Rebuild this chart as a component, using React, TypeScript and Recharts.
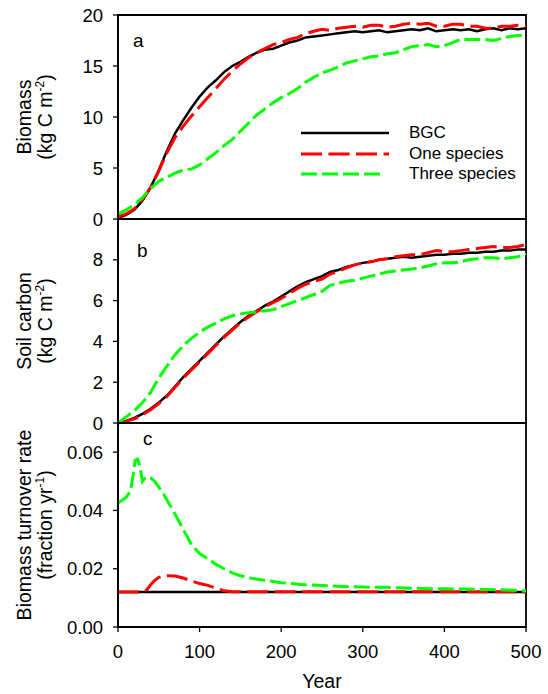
import { Legend, Line, LineChart, ReferenceArea, XAxis, YAxis } from "recharts";

const FONT = "'Liberation Sans', Arial, sans-serif";

const YEARS = [
  0, 10, 20, 30, 40, 50, 60, 70, 80, 90, 100, 110, 120, 130, 140, 150, 160,
  170, 180, 190, 200, 210, 220, 230, 240, 250, 260, 270, 280, 290, 300, 310,
  320, 330, 340, 350, 360, 370, 380, 390, 400, 410, 420, 430, 440, 450, 460,
  470, 480, 490, 500,
];

// panel a: biomass (kg C m-2)
const BIOMASS_BGC = [
  0.1, 0.4, 0.9, 1.8, 3.1, 4.8, 6.7, 8.4, 9.7, 10.9,
  12.0, 12.9, 13.6, 14.4, 15.0, 15.4, 15.9, 16.3, 16.6, 16.7,
  17.0, 17.3, 17.5, 17.8, 17.9, 18.0, 18.1, 18.2, 18.3, 18.4,
  18.3, 18.4, 18.5, 18.3, 18.4, 18.5, 18.6, 18.5, 18.7, 18.4,
  18.5, 18.6, 18.5, 18.6, 18.4, 18.6, 18.7, 18.5, 18.7, 18.6, 18.7,
];
const BIOMASS_ONE = [
  0.2, 0.5, 1.0, 1.9, 3.1, 4.7, 6.5, 8.0, 9.1, 10.1,
  11.0, 11.9, 12.8, 13.7, 14.5, 15.2, 15.8, 16.3, 16.7, 17.1,
  17.3, 17.6, 17.8, 18.2, 18.4, 18.6, 18.5, 18.7, 18.8, 18.9,
  18.8, 19.0, 19.0, 18.8, 18.9, 19.1, 19.2, 19.1, 19.2, 18.9,
  18.9, 19.1, 19.1, 18.9, 18.9, 18.7, 18.7, 18.9, 18.9, 19.0, 18.9,
];
const BIOMASS_THREE = [
  0.5, 0.9, 1.4, 2.1, 3.0, 3.7, 4.1, 4.5, 4.8, 4.9,
  5.3, 5.9, 6.5, 7.2, 7.8, 8.6, 9.4, 10.2, 10.8, 11.4,
  11.9, 12.3, 12.8, 13.4, 13.9, 14.3, 14.6, 14.9, 15.3, 15.5,
  15.7, 15.9, 16.0, 16.2, 16.3, 16.6, 16.9, 17.0, 17.1, 16.9,
  17.0, 17.3, 17.6, 17.6, 17.6, 17.6, 17.5, 17.7, 17.9, 18.0, 18.0,
];

// panel b: soil carbon (kg C m-2)
const SOIL_BGC = [
  0, 0.1, 0.25, 0.45, 0.7, 1.0, 1.35, 1.8, 2.25, 2.65,
  3.05, 3.45, 3.85, 4.25, 4.6, 4.95, 5.25, 5.5, 5.75, 5.95,
  6.2, 6.45, 6.7, 6.9, 7.05, 7.2, 7.4, 7.5, 7.65, 7.75,
  7.85, 7.9, 8.0, 8.05, 8.1, 8.15, 8.1, 8.15, 8.2, 8.25,
  8.25, 8.3, 8.3, 8.35, 8.35, 8.4, 8.4, 8.45, 8.45, 8.5, 8.5,
];
const SOIL_ONE = [
  0, 0.08, 0.2, 0.4, 0.65, 0.95, 1.3, 1.75, 2.2, 2.6,
  3.0, 3.4, 3.8, 4.2, 4.55, 4.9, 5.2, 5.45, 5.7, 5.9,
  6.1, 6.35, 6.6, 6.8, 6.95, 7.05, 7.3, 7.45, 7.6, 7.75,
  7.85, 7.9, 8.0, 8.05, 8.15, 8.2, 8.25, 8.25, 8.35, 8.45,
  8.4, 8.4, 8.45, 8.5, 8.55, 8.6, 8.65, 8.6, 8.6, 8.65, 8.75,
];
const SOIL_THREE = [
  0, 0.3, 0.6, 1.0, 1.5, 2.2, 2.8, 3.35, 3.8, 4.15,
  4.45, 4.7, 4.9, 5.1, 5.25, 5.35, 5.4, 5.45, 5.5, 5.55,
  5.7, 5.85, 6.0, 6.15, 6.3, 6.45, 6.75, 6.85, 6.95, 7.0,
  7.1, 7.2, 7.3, 7.4, 7.45, 7.5, 7.55, 7.6, 7.7, 7.8,
  7.85, 7.85, 7.9, 8.0, 8.05, 8.1, 8.1, 8.05, 8.1, 8.15, 8.3,
];

// panel c: turnover rate, finer steps early on for the spike
const YEARS_C = [
  0, 5, 10, 15, 18, 21, 24, 27, 30, 33, 36, 40, 45, 50, 55, 60, 70, 80, 90,
  100, 110, 120, 130, 140, 150, 160, 175, 200, 225, 250, 275, 300, 325, 350,
  375, 400, 425, 450, 475, 500,
];
const TURNOVER_BGC = [
  0.012, 0.012, 0.012, 0.012, 0.012, 0.012, 0.012, 0.012, 0.012, 0.012,
  0.012, 0.012, 0.012, 0.012, 0.012, 0.012, 0.012, 0.012, 0.012, 0.012,
  0.012, 0.012, 0.012, 0.012, 0.012, 0.012, 0.012, 0.012, 0.012, 0.012,
  0.012, 0.012, 0.012, 0.012, 0.012, 0.012, 0.012, 0.012, 0.012, 0.012,
];
const TURNOVER_ONE = [
  0.012, 0.012, 0.012, 0.012, 0.012, 0.012, 0.012, 0.012, 0.012, 0.0124,
  0.013, 0.0145, 0.016, 0.017, 0.0175, 0.0176, 0.0175, 0.0168, 0.0158, 0.0149,
  0.0143, 0.0133, 0.0124, 0.0121, 0.0121, 0.0121, 0.0121, 0.0121, 0.0121, 0.0121,
  0.0121, 0.0121, 0.0121, 0.0121, 0.0121, 0.0121, 0.0121, 0.0121, 0.0121, 0.0121,
];
const TURNOVER_THREE = [
  0.0425, 0.0435, 0.0445, 0.0465, 0.051, 0.0572, 0.0576, 0.055, 0.05, 0.0511,
  0.0516, 0.0512, 0.05, 0.048, 0.046, 0.0436, 0.0387, 0.0335, 0.0283, 0.0252,
  0.0234, 0.0215, 0.02, 0.0186, 0.0176, 0.0169, 0.0162, 0.0152, 0.0146, 0.0142,
  0.0139, 0.0137, 0.0136, 0.0134, 0.0132, 0.0131, 0.013, 0.0129, 0.0127, 0.0124,
];

const X_TICKS = [0, 100, 200, 300, 400, 500];
const BIOMASS_TICKS = [0, 5, 10, 15, 20];
const SOIL_TICKS = [0, 2, 4, 6, 8];
const TURNOVER_TICKS = [0, 0.02, 0.04, 0.06];

const SERIES = [
  { key: "bgc", name: "BGC", color: "#000000", width: 2.5, dash: undefined, legendLen: 88 },
  { key: "one", name: "One species", color: "#ff0000", width: 3, dash: "21 6.5", legendLen: 88 },
  { key: "three", name: "Three species", color: "#00ff00", width: 3, dash: "16 5", legendLen: 81 },
];

const rows = (years: number[], bgc: number[], one: number[], three: number[]) =>
  years.map((year, i) => ({ year, bgc: bgc[i], one: one[i], three: three[i] }));

const dataA = rows(YEARS, BIOMASS_BGC, BIOMASS_ONE, BIOMASS_THREE);
const dataB = rows(YEARS, SOIL_BGC, SOIL_ONE, SOIL_THREE);
const dataC = rows(YEARS_C, TURNOVER_BGC, TURNOVER_ONE, TURNOVER_THREE);

type TitleLine = { text: string; sup?: string; after?: string };

const TITLE_X = [31, 52];

function AxisTitle({ viewBox, lines }: { viewBox?: any; lines: TitleLine[] }) {
  if (!viewBox) return null;
  const cy = viewBox.y + viewBox.height / 2;
  return (
    <g>
      {lines.map((l, i) => (
        <text
          key={i}
          transform={`translate(${TITLE_X[i]}, ${cy}) rotate(-90)`}
          textAnchor="middle"
          fontSize={19.5}
          fill="#000"
        >
          {l.text}
          {l.sup && (
            <tspan dy={-8} fontSize={12}>
              {l.sup}
            </tspan>
          )}
          {l.after && (
            <tspan dy={8} fontSize={19.5}>
              {l.after}
            </tspan>
          )}
        </text>
      ))}
    </g>
  );
}

const letterLabel = (letter: string, dx: number, dy: number) => (props: any) => {
  const vb = props.viewBox;
  if (!vb) return null;
  return (
    <text x={vb.x + dx} y={vb.y + dy} fontSize={19} fill="#000">
      {letter}
    </text>
  );
};

const renderLegend = () => (
  <div style={{ fontSize: 17, color: "#000", lineHeight: "20px" }}>
    {SERIES.map((s) => (
      <div key={s.key} style={{ display: "flex", alignItems: "center", height: 20.5 }}>
        <svg width={90} height={8} style={{ display: "block" }}>
          <line
            x1={1}
            x2={1 + s.legendLen}
            y1={4}
            y2={4}
            stroke={s.color}
            strokeWidth={s.width}
            strokeDasharray={s.dash}
          />
        </svg>
        <span style={{ marginLeft: 19, whiteSpace: "nowrap" }}>{s.name}</span>
      </div>
    ))}
  </div>
);

function Panel({
  top,
  height,
  marginTop,
  xAxisHeight,
  data,
  yDomain,
  yTicks,
  yFormat,
  title,
  letter,
  showTopTicks,
  showXLabels,
  withLegend,
}: {
  top: number;
  height: number;
  marginTop: number;
  xAxisHeight: number;
  data: any[];
  yDomain: [number, number];
  yTicks: number[];
  yFormat: (v: number) => string;
  title: TitleLine[];
  letter: [string, number, number];
  showTopTicks: boolean;
  showXLabels: boolean;
  withLegend: boolean;
}) {
  return (
    <div style={{ position: "absolute", left: 0, top }}>
      <LineChart
        width={548}
        height={height}
        data={data}
        margin={{ top: marginTop, right: 22, bottom: 0, left: 0 }}
      >
        <XAxis
          dataKey="year"
          type="number"
          domain={[0, 500]}
          ticks={X_TICKS}
          interval={0}
          height={xAxisHeight}
          tickSize={5}
          tickMargin={13}
          axisLine={{ stroke: "#000", strokeWidth: 1.8 }}
          tickLine={{ stroke: "#000", strokeWidth: 1.3 }}
          tick={showXLabels ? { fontSize: 18.5, fill: "#000" } : false}
          label={
            showXLabels
              ? (props: any) => {
                  const vb = props.viewBox;
                  if (!vb) return null;
                  return (
                    <text x={vb.x + vb.width / 2} y={vb.y + 61} textAnchor="middle" fontSize={19.5} fill="#000">
                      Year
                    </text>
                  );
                }
              : undefined
          }
        />
        {showTopTicks && (
          <XAxis
            xAxisId="top"
            orientation="top"
            dataKey="year"
            type="number"
            domain={[0, 500]}
            ticks={X_TICKS}
            interval={0}
            height={0}
            tickSize={4}
            axisLine={false}
            tickLine={{ stroke: "#000", strokeWidth: 1.3 }}
            tick={false}
          />
        )}
        <YAxis
          type="number"
          domain={yDomain}
          ticks={yTicks}
          interval={0}
          width={118}
          tickSize={5}
          tickMargin={10}
          tickFormatter={yFormat}
          axisLine={{ stroke: "#000", strokeWidth: 1.8 }}
          tickLine={{ stroke: "#000", strokeWidth: 1.3 }}
          tick={{ fontSize: 18.5, fill: "#000" }}
          label={(props: any) => <AxisTitle viewBox={props.viewBox} lines={title} />}
        />
        <ReferenceArea
          x1={0}
          x2={500}
          y1={yDomain[0]}
          y2={yDomain[1]}
          fill="none"
          fillOpacity={0}
          stroke="#000"
          strokeWidth={1.8}
          strokeOpacity={1}
          label={letterLabel(letter[0], letter[1], letter[2])}
        />
        {SERIES.map((s) => (
          <Line
            key={s.key}
            dataKey={s.key}
            name={s.name}
            type="linear"
            stroke={s.color}
            strokeWidth={s.width}
            strokeDasharray={s.dash}
            dot={false}
            activeDot={false}
            isAnimationActive={false}
          />
        ))}
        {withLegend && (
          <Legend
            layout="vertical"
            align="center"
            verticalAlign="middle"
            wrapperStyle={{ left: 300, top: 123, width: 240 }}
            content={renderLegend}
          />
        )}
      </LineChart>
    </div>
  );
}

export default function App() {
  return (
    <div
      style={{
        position: "absolute",
        left: 0,
        top: 0,
        width: 548,
        height: 694,
        background: "#fff",
        fontFamily: FONT,
      }}
    >
      <Panel
        top={0}
        height={240}
        marginTop={15}
        xAxisHeight={21}
        data={dataA}
        yDomain={[0, 20]}
        yTicks={BIOMASS_TICKS}
        yFormat={(v) => String(v)}
        title={[{ text: "Biomass" }, { text: "(kg C m", sup: "-2", after: ")" }]}
        letter={["a", 15, 32]}
        showTopTicks={false}
        showXLabels={false}
        withLegend
      />
      <Panel
        top={200}
        height={245}
        marginTop={19}
        xAxisHeight={22}
        data={dataB}
        yDomain={[0, 10]}
        yTicks={SOIL_TICKS}
        yFormat={(v) => String(v)}
        title={[{ text: "Soil carbon" }, { text: "(kg C m", sup: "-2", after: ")" }]}
        letter={["b", 19, 38]}
        showTopTicks
        showXLabels={false}
        withLegend={false}
      />
      <Panel
        top={400}
        height={294}
        marginTop={23}
        xAxisHeight={67}
        data={dataC}
        yDomain={[0, 0.07]}
        yTicks={TURNOVER_TICKS}
        yFormat={(v) => v.toFixed(2)}
        title={[{ text: "Biomass turnover rate" }, { text: "(fraction yr", sup: "-1", after: ")" }]}
        letter={["c", 25, 22]}
        showTopTicks
        showXLabels
        withLegend={false}
      />
    </div>
  );
}
